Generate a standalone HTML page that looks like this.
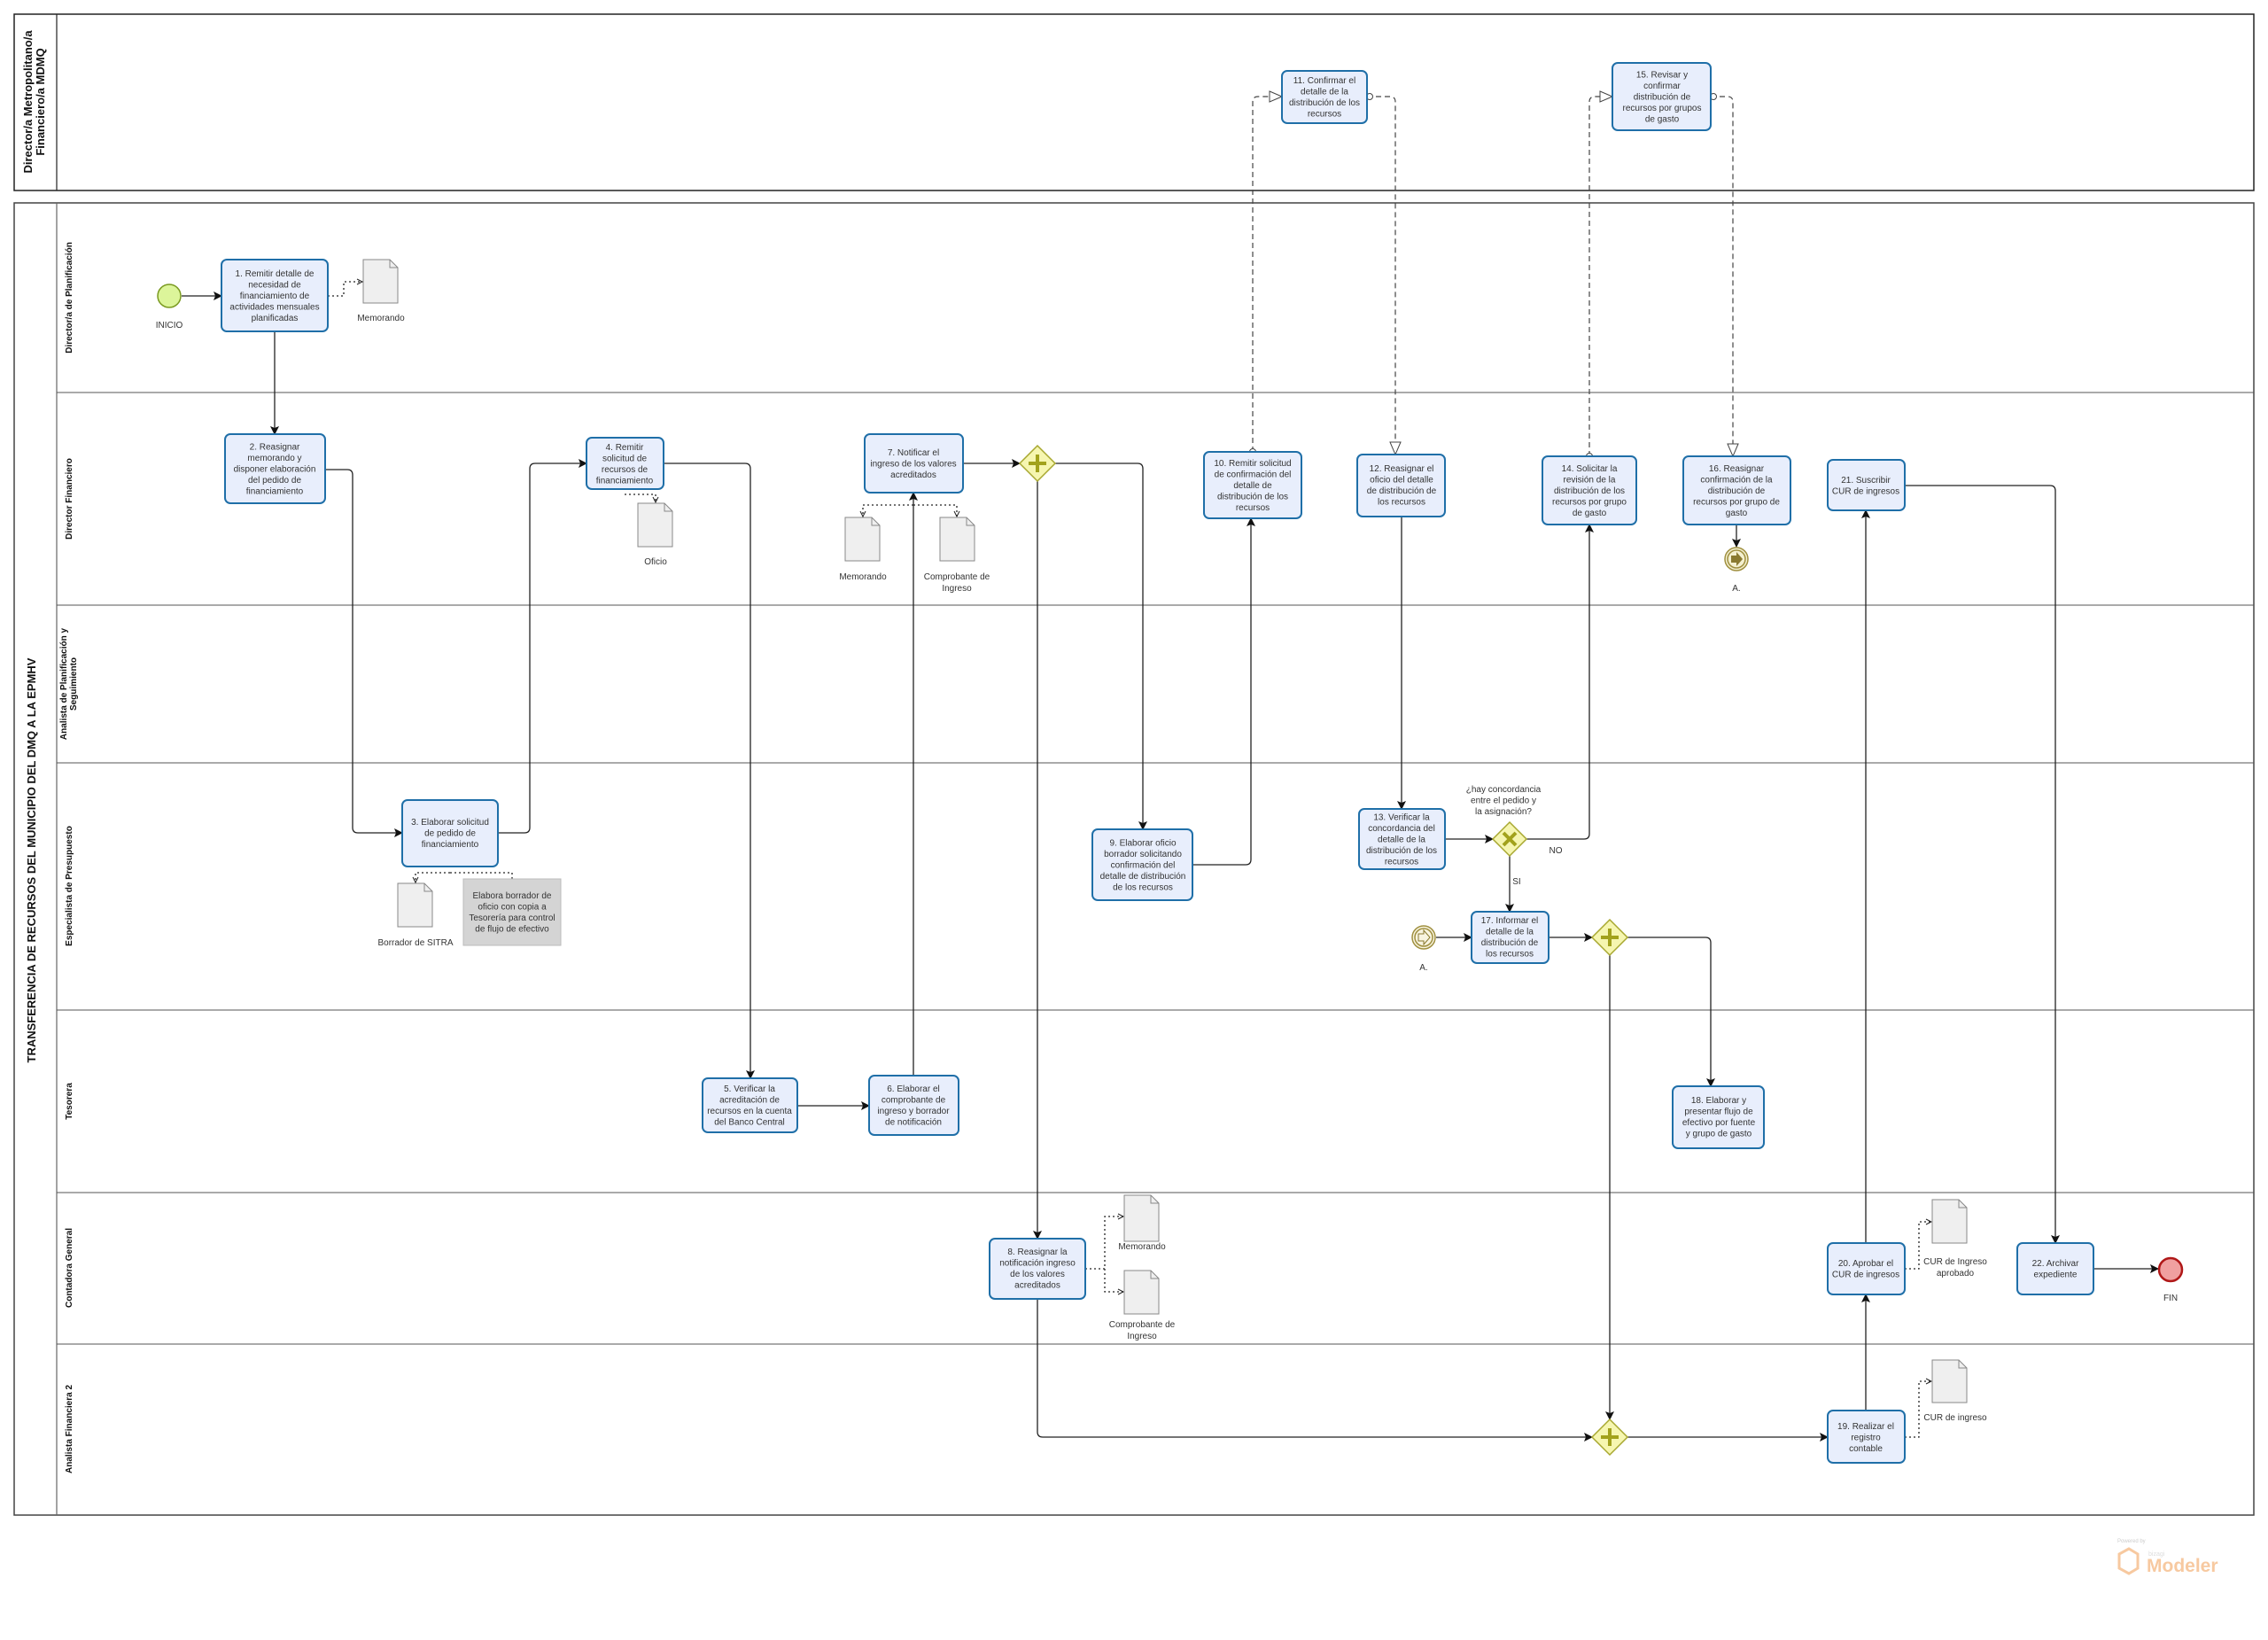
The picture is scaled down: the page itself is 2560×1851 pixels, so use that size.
<!DOCTYPE html>
<html><head><meta charset="utf-8"><style>
html,body{margin:0;padding:0;background:#fff}
svg{display:block}
text{font-family:"Liberation Sans",sans-serif;fill:#333}
.t{font-size:10px;text-anchor:middle}
.l{font-size:10px;font-weight:bold;fill:#111;text-anchor:middle}
.task{fill:#e8eefc;stroke:#1f6fa8;stroke-width:2}
.ln{fill:none;stroke:#222;stroke-width:1.3}
.dot{fill:none;stroke:#222;stroke-width:1.3;stroke-dasharray:2 3}
.dash{fill:none;stroke:#444;stroke-width:1.2;stroke-dasharray:6 4}
.doc{fill:#efefef;stroke:#888;stroke-width:1}
.gw{fill:#f6f6b0;stroke:#a8a830;stroke-width:1.5}
.gs{stroke:#a2a21c;stroke-width:4;fill:none}
</style></head><body>
<svg width="2560" height="1851" viewBox="0 0 2560 1851" xmlns="http://www.w3.org/2000/svg">
<defs>
<marker id="a" markerWidth="10" markerHeight="10" refX="9" refY="5" orient="auto" markerUnits="userSpaceOnUse"><path d="M0,0 L10,5 L0,10 L2,5 Z" fill="#111"/></marker>
<marker id="o" markerWidth="16" markerHeight="14" refX="15" refY="7" orient="auto" markerUnits="userSpaceOnUse"><path d="M1,1 L15,7 L1,13 Z" fill="#fff" stroke="#444"/></marker>
<marker id="s" markerWidth="8" markerHeight="8" refX="8" refY="4" orient="auto" markerUnits="userSpaceOnUse"><path d="M1,1 L7,4 L1,7" fill="none" stroke="#222"/></marker>
</defs>

<!-- top pool -->
<rect x="16" y="16" width="2528" height="199" fill="#fff" stroke="#222" stroke-width="1.5"/>
<line x1="64" y1="16" x2="64" y2="215" stroke="#222" stroke-width="1.2"/>
<text class="l" font-size="13" transform="translate(36,115) rotate(-90)" style="font-size:13px"><tspan x="0" y="0">Director/a Metropolitano/a</tspan><tspan x="0" y="14">Financiero/a MDMQ</tspan></text>

<!-- main pool -->
<rect x="16" y="229" width="2528" height="1481" fill="#fff" stroke="#444" stroke-width="1.5"/>
<line x1="64" y1="229" x2="64" y2="1710" stroke="#666" stroke-width="1.2"/>
<g stroke="#555" stroke-width="1">
<line x1="64" y1="443" x2="2544" y2="443"/>
<line x1="64" y1="683" x2="2544" y2="683"/>
<line x1="64" y1="861" x2="2544" y2="861"/>
<line x1="64" y1="1140" x2="2544" y2="1140"/>
<line x1="64" y1="1346" x2="2544" y2="1346"/>
<line x1="64" y1="1517" x2="2544" y2="1517"/>
</g>
<text class="l" transform="translate(40,971) rotate(-90)" style="font-size:13px">TRANSFERENCIA DE RECURSOS DEL MUNICIPIO DEL DMQ A LA EPMHV</text>
<g class="l">
<text class="l" transform="translate(81,336) rotate(-90)">Director/a de Planificación</text>
<text class="l" transform="translate(81,563) rotate(-90)">Director Financiero</text>
<text class="l" transform="translate(75,772) rotate(-90)"><tspan x="0" y="0">Analista de Planificación y</tspan><tspan x="0" y="11">Seguimiento</tspan></text>
<text class="l" transform="translate(81,1000) rotate(-90)">Especialista de Presupuesto</text>
<text class="l" transform="translate(81,1243) rotate(-90)">Tesorera</text>
<text class="l" transform="translate(81,1431) rotate(-90)">Contadora General</text>
<text class="l" transform="translate(81,1613) rotate(-90)">Analista Financiera 2</text>
</g>

<!-- connectors -->
<path class="ln" d="M205,334 H250" marker-end="url(#a)"/>
<path class="ln" d="M310,374 V490" marker-end="url(#a)"/>
<path class="ln" d="M367,530 H392 Q398,530 398,536 V934 Q398,940 404,940 H454" marker-end="url(#a)"/>
<path class="ln" d="M562,940 H592 Q598,940 598,934 V529 Q598,523 604,523 H662" marker-end="url(#a)"/>
<path class="ln" d="M749,523 H841 Q847,523 847,529 V1217" marker-end="url(#a)"/>
<path class="ln" d="M900,1248 H981" marker-end="url(#a)"/>
<path class="ln" d="M1031,1214 V556" marker-end="url(#a)"/>
<path class="ln" d="M1087,523 H1151" marker-end="url(#a)"/>
<path class="ln" d="M1191,523 H1284 Q1290,523 1290,529 V936" marker-end="url(#a)"/>
<path class="ln" d="M1171,543 V1398" marker-end="url(#a)"/>
<path class="ln" d="M1171,1466 V1616 Q1171,1622 1177,1622 H1797" marker-end="url(#a)"/>
<path class="ln" d="M1346,976 H1406 Q1412,976 1412,970 V585" marker-end="url(#a)"/>
<path class="ln" d="M1582,583 V913" marker-end="url(#a)"/>
<path class="ln" d="M1631,947 H1685" marker-end="url(#a)"/>
<path class="ln" d="M1723,947 H1788 Q1794,947 1794,941 V592" marker-end="url(#a)"/>
<path class="ln" d="M1704,966 V1029" marker-end="url(#a)"/>
<path class="ln" d="M1960,592 V617" marker-end="url(#a)"/>
<path class="ln" d="M1621,1058 H1661" marker-end="url(#a)"/>
<path class="ln" d="M1748,1058 H1797" marker-end="url(#a)"/>
<path class="ln" d="M1837,1058 H1925 Q1931,1058 1931,1064 V1226" marker-end="url(#a)"/>
<path class="ln" d="M1817,1078 V1602" marker-end="url(#a)"/>
<path class="ln" d="M1837,1622 H2063" marker-end="url(#a)"/>
<path class="ln" d="M2106,1592 V1461" marker-end="url(#a)"/>
<path class="ln" d="M2106,1403 V576" marker-end="url(#a)"/>
<path class="ln" d="M2150,548 H2314 Q2320,548 2320,554 V1403" marker-end="url(#a)"/>
<path class="ln" d="M2363,1432 H2436" marker-end="url(#a)"/>

<!-- message flows -->
<path class="dash" d="M1414,510 V115 Q1414,109 1420,109 H1447" marker-end="url(#o)"/>
<circle cx="1414" cy="510" r="3.5" fill="#fff" stroke="#444"/>
<path class="dash" d="M1543,109 H1569 Q1575,109 1575,115 V513" marker-end="url(#o)"/>
<circle cx="1546" cy="109" r="3.5" fill="#fff" stroke="#444"/>
<path class="dash" d="M1794,515 V115 Q1794,109 1800,109 H1820" marker-end="url(#o)"/>
<circle cx="1794" cy="515" r="3.5" fill="#fff" stroke="#444"/>
<path class="dash" d="M1931,109 H1950 Q1956,109 1956,115 V515" marker-end="url(#o)"/>
<circle cx="1934" cy="109" r="3.5" fill="#fff" stroke="#444"/>

<!-- associations -->
<path class="dot" d="M370,334 H388 V318 H410" marker-end="url(#s)"/>
<path class="dot" d="M705,558 H740 V568" marker-end="url(#s)"/>
<path class="dot" d="M1031,570 H974 V584" marker-end="url(#s)"/>
<path class="dot" d="M1031,570 H1080 V584" marker-end="url(#s)"/>
<path class="dot" d="M508,985 H469 V997" marker-end="url(#s)"/>
<path class="dot" d="M508,985 H578 V992"/>
<path class="dot" d="M1225,1432 H1247 V1373 H1269" marker-end="url(#s)"/>
<path class="dot" d="M1247,1432 V1458 H1269" marker-end="url(#s)"/>
<path class="dot" d="M2150,1432 H2166 V1379 H2181" marker-end="url(#s)"/>
<path class="dot" d="M2150,1622 H2166 V1559 H2181" marker-end="url(#s)"/>

<!-- docs -->
<g class="doc">
<path d="M410,293 H440 L449,302 V342 H410 Z"/>
<path d="M720,568 H750 L759,577 V617 H720 Z"/>
<path d="M954,584 H984 L993,593 V633 H954 Z"/>
<path d="M1061,584 H1091 L1100,593 V633 H1061 Z"/>
<path d="M449,997 H479 L488,1006 V1046 H449 Z"/>
<path d="M1269,1349 H1299 L1308,1358 V1401 H1269 Z"/>
<path d="M1269,1434 H1299 L1308,1443 V1483 H1269 Z"/>
<path d="M2181,1354 H2211 L2220,1363 V1403 H2181 Z"/>
<path d="M2181,1535 H2211 L2220,1544 V1583 H2181 Z"/>
</g>
<g fill="none" stroke="#888"><path d="M440,293 V302 H449"/><path d="M750,568 V577 H759"/><path d="M984,584 V593 H993"/><path d="M1091,584 V593 H1100"/><path d="M479,997 V1006 H488"/><path d="M1299,1349 V1358 H1308"/><path d="M1299,1434 V1443 H1308"/><path d="M2211,1354 V1363 H2220"/><path d="M2211,1535 V1544 H2220"/></g>
<g class="t">
<text class="t" x="430" y="362">Memorando</text>
<text class="t" x="740" y="637">Oficio</text>
<text class="t" x="974" y="654">Memorando</text>
<text class="t" x="1080" y="654">Comprobante de</text><text class="t" x="1080" y="667">Ingreso</text>
<text class="t" x="469" y="1067">Borrador de SITRA</text>
<text class="t" x="1289" y="1410">Memorando</text>
<text class="t" x="1289" y="1498">Comprobante de</text><text class="t" x="1289" y="1511">Ingreso</text>
<text class="t" x="2207" y="1427">CUR de Ingreso</text><text class="t" x="2207" y="1440">aprobado</text>
<text class="t" x="2207" y="1603">CUR de ingreso</text>
</g>

<!-- annotation -->
<rect x="523" y="992" width="110" height="75" fill="#d4d4d4" stroke="#bbb"/>
<text class="t" x="578"><tspan x="578" y="1014">Elabora borrador de</tspan><tspan x="578" y="1026.5">oficio con copia a</tspan><tspan x="578" y="1039">Tesorería para control</tspan><tspan x="578" y="1051.5">de flujo de efectivo</tspan></text>

<!-- events -->
<circle cx="191" cy="334" r="13" fill="#dcf59a" stroke="#7a9a20" stroke-width="1.5"/>
<text class="t" x="191" y="370">INICIO</text>
<circle cx="2450" cy="1433" r="13" fill="#f0a0a0" stroke="#b01818" stroke-width="2.5"/>
<text class="t" x="2450" y="1468">FIN</text>
<circle cx="1960" cy="631" r="13" fill="#f4f0d0" stroke="#a09040" stroke-width="1.5"/>
<circle cx="1960" cy="631" r="10" fill="#f4f0d0" stroke="#a09040" stroke-width="1.5"/>
<path d="M1954,627 H1960 V623 L1967,631 L1960,639 V635 H1954 Z" fill="#8a7a30"/>
<text class="t" x="1960" y="667">A.</text>
<circle cx="1607" cy="1058" r="13" fill="#f8f4e0" stroke="#a09040" stroke-width="1.5"/>
<circle cx="1607" cy="1058" r="10" fill="#f8f4e0" stroke="#a09040" stroke-width="1.5"/>
<path d="M1601,1054 H1607 V1050 L1614,1058 L1607,1066 V1062 H1601 Z" fill="none" stroke="#8a7a30"/>
<text class="t" x="1607" y="1095">A.</text>

<!-- gateways -->
<g>
<path class="gw" d="M1171,503 L1191,523 L1171,543 L1151,523 Z"/><path class="gs" d="M1171,513 V533 M1161,523 H1181"/>
<path class="gw" d="M1704,928 L1723,947 L1704,966 L1685,947 Z"/><path class="gs" d="M1697,940 L1711,954 M1711,940 L1697,954"/>
<path class="gw" d="M1817,1038 L1837,1058 L1817,1078 L1797,1058 Z"/><path class="gs" d="M1817,1048 V1068 M1807,1058 H1827"/>
<path class="gw" d="M1817,1602 L1837,1622 L1817,1642 L1797,1622 Z"/><path class="gs" d="M1817,1612 V1632 M1807,1622 H1827"/>
</g>
<text class="t" x="1697" y="894">¿hay concordancia</text><text class="t" x="1697" y="906.5">entre el pedido y</text><text class="t" x="1697" y="919">la asignación?</text>
<text class="t" x="1756" y="963">NO</text>
<text class="t" x="1712" y="998">SI</text>

<!-- tasks -->
<rect class="task" x="250" y="293" width="120" height="81" rx="6"/>
<text class="t"><tspan x="310" y="312">1. Remitir detalle de</tspan><tspan x="310" y="324.5">necesidad de</tspan><tspan x="310" y="337">financiamiento de</tspan><tspan x="310" y="349.5">actividades mensuales</tspan><tspan x="310" y="362">planificadas</tspan></text>
<rect class="task" x="254" y="490" width="113" height="78" rx="6"/>
<text class="t"><tspan x="310" y="507.5">2. Reasignar</tspan><tspan x="310" y="520">memorando y</tspan><tspan x="310" y="532.5">disponer  elaboración</tspan><tspan x="310" y="545">del pedido de</tspan><tspan x="310" y="557.5">financiamiento</tspan></text>
<rect class="task" x="454" y="903" width="108" height="75" rx="6"/>
<text class="t"><tspan x="508" y="931">3. Elaborar solicitud</tspan><tspan x="508" y="943.5">de pedido de</tspan><tspan x="508" y="956">financiamiento</tspan></text>
<rect class="task" x="662" y="494" width="87" height="58" rx="6"/>
<text class="t"><tspan x="705" y="508">4. Remitir</tspan><tspan x="705" y="520.5">solicitud de</tspan><tspan x="705" y="533">recursos de</tspan><tspan x="705" y="545.5">financiamiento</tspan></text>
<rect class="task" x="793" y="1217" width="107" height="61" rx="6"/>
<text class="t"><tspan x="846" y="1232">5. Verificar la</tspan><tspan x="846" y="1244.5">acreditación de</tspan><tspan x="846" y="1257">recursos en la cuenta</tspan><tspan x="846" y="1269.5">del Banco Central</tspan></text>
<rect class="task" x="981" y="1214" width="101" height="67" rx="6"/>
<text class="t"><tspan x="1031" y="1232">6. Elaborar el</tspan><tspan x="1031" y="1244.5">comprobante de</tspan><tspan x="1031" y="1257">ingreso y borrador</tspan><tspan x="1031" y="1269.5">de notificación</tspan></text>
<rect class="task" x="976" y="490" width="111" height="66" rx="6"/>
<text class="t"><tspan x="1031" y="514">7. Notificar el</tspan><tspan x="1031" y="526.5">ingreso de los valores</tspan><tspan x="1031" y="539">acreditados</tspan></text>
<rect class="task" x="1117" y="1398" width="108" height="68" rx="6"/>
<text class="t"><tspan x="1171" y="1416">8. Reasignar la</tspan><tspan x="1171" y="1428.5">notificación ingreso</tspan><tspan x="1171" y="1441">de los valores</tspan><tspan x="1171" y="1453.5">acreditados</tspan></text>
<rect class="task" x="1233" y="936" width="113" height="80" rx="6"/>
<text class="t"><tspan x="1290" y="954.5">9. Elaborar oficio</tspan><tspan x="1290" y="967">borrador solicitando</tspan><tspan x="1290" y="979.5">confirmación del</tspan><tspan x="1290" y="992">detalle de distribución</tspan><tspan x="1290" y="1004.5">de los recursos</tspan></text>
<rect class="task" x="1359" y="510" width="110" height="75" rx="6"/>
<text class="t"><tspan x="1414" y="526">10. Remitir solicitud</tspan><tspan x="1414" y="538.5">de confirmación del</tspan><tspan x="1414" y="551">detalle de</tspan><tspan x="1414" y="563.5">distribución de los</tspan><tspan x="1414" y="576">recursos</tspan></text>
<rect class="task" x="1447" y="80" width="96" height="59" rx="6"/>
<text class="t"><tspan x="1495" y="94">11. Confirmar el</tspan><tspan x="1495" y="106.5">detalle de la</tspan><tspan x="1495" y="119">distribución de los</tspan><tspan x="1495" y="131.5">recursos</tspan></text>
<rect class="task" x="1532" y="513" width="99" height="70" rx="6"/>
<text class="t"><tspan x="1582" y="532">12. Reasignar el</tspan><tspan x="1582" y="544.5">oficio del detalle</tspan><tspan x="1582" y="557">de distribución de</tspan><tspan x="1582" y="569.5">los recursos</tspan></text>
<rect class="task" x="1534" y="913" width="97" height="68" rx="6"/>
<text class="t"><tspan x="1582" y="925.5">13. Verificar la</tspan><tspan x="1582" y="938">concordancia del</tspan><tspan x="1582" y="950.5">detalle de la</tspan><tspan x="1582" y="963">distribución de los</tspan><tspan x="1582" y="975.5">recursos</tspan></text>
<rect class="task" x="1741" y="515" width="106" height="77" rx="6"/>
<text class="t"><tspan x="1794" y="532">14. Solicitar la</tspan><tspan x="1794" y="544.5">revisión de la</tspan><tspan x="1794" y="557">distribución de los</tspan><tspan x="1794" y="569.5">recursos por grupo</tspan><tspan x="1794" y="582">de gasto</tspan></text>
<rect class="task" x="1820" y="71" width="111" height="76" rx="6"/>
<text class="t"><tspan x="1876" y="87.5">15. Revisar y</tspan><tspan x="1876" y="100">confirmar</tspan><tspan x="1876" y="112.5">distribución de</tspan><tspan x="1876" y="125">recursos por grupos</tspan><tspan x="1876" y="137.5">de gasto</tspan></text>
<rect class="task" x="1900" y="515" width="121" height="77" rx="6"/>
<text class="t"><tspan x="1960" y="532">16. Reasignar</tspan><tspan x="1960" y="544.5">confirmación de la</tspan><tspan x="1960" y="557">distribución de</tspan><tspan x="1960" y="569.5">recursos por grupo de</tspan><tspan x="1960" y="582">gasto</tspan></text>
<rect class="task" x="1661" y="1029" width="87" height="58" rx="6"/>
<text class="t"><tspan x="1704" y="1042">17. Informar el</tspan><tspan x="1704" y="1054.5">detalle de la</tspan><tspan x="1704" y="1067">distribución de</tspan><tspan x="1704" y="1079.5">los recursos</tspan></text>
<rect class="task" x="1888" y="1226" width="103" height="70" rx="6"/>
<text class="t"><tspan x="1940" y="1245">18. Elaborar y</tspan><tspan x="1940" y="1257.5">presentar flujo de</tspan><tspan x="1940" y="1270">efectivo por fuente</tspan><tspan x="1940" y="1282.5">y grupo de gasto</tspan></text>
<rect class="task" x="2063" y="1592" width="87" height="59" rx="6"/>
<text class="t"><tspan x="2106" y="1613">19. Realizar el</tspan><tspan x="2106" y="1625.5">registro</tspan><tspan x="2106" y="1638">contable</tspan></text>
<rect class="task" x="2063" y="1403" width="87" height="58" rx="6"/>
<text class="t"><tspan x="2106" y="1429">20. Aprobar el</tspan><tspan x="2106" y="1441.5">CUR de ingresos</tspan></text>
<rect class="task" x="2063" y="519" width="87" height="57" rx="6"/>
<text class="t"><tspan x="2106" y="545">21. Suscribir</tspan><tspan x="2106" y="557.5">CUR de ingresos</tspan></text>
<rect class="task" x="2277" y="1403" width="86" height="58" rx="6"/>
<text class="t"><tspan x="2320" y="1429">22. Archivar</tspan><tspan x="2320" y="1441.5">expediente</tspan></text>

<!-- logo -->
<text x="2390" y="1741" style="font-size:6px;fill:#ccc">Powered by</text>
<text x="2425" y="1756" style="font-size:7px;fill:#ddd">bizagi</text>
<path d="M2403,1748 L2392,1754 V1770 L2403,1776 L2413,1770 V1754 Z" fill="none" stroke="#f7c9a0" stroke-width="3"/>
<text x="2423" y="1774" style="font-size:21px;fill:#f7c9a0;font-weight:bold">Modeler</text>
</svg>
</body></html>
